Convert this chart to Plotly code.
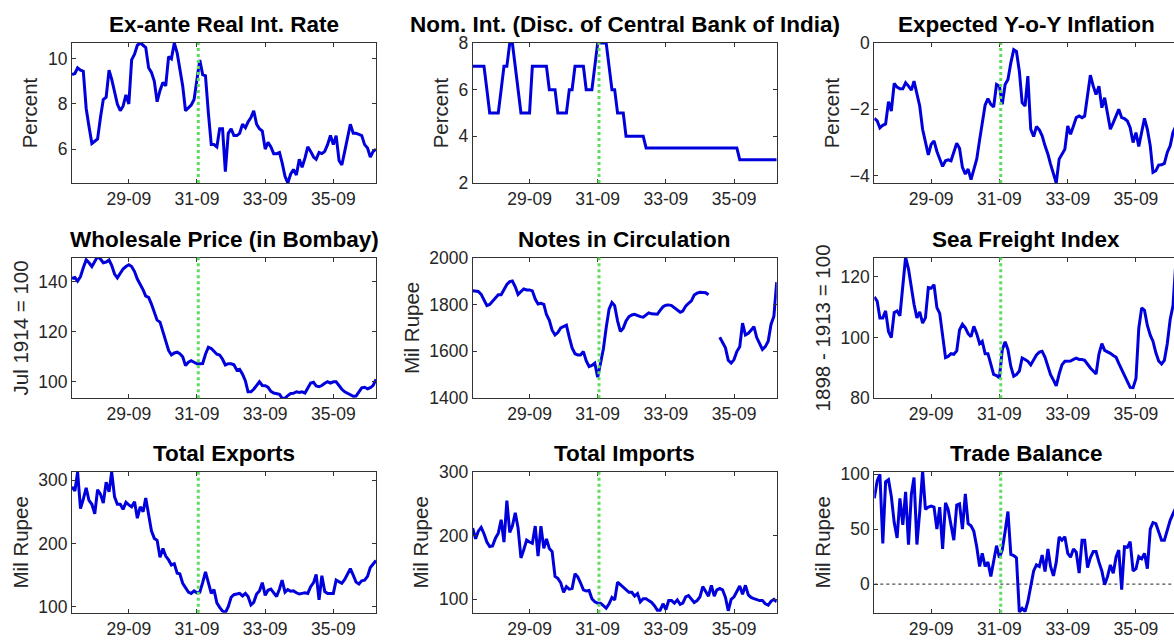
import pandas as pd
import plotly.graph_objects as go

dates = pd.date_range("1928-01-01", "1936-12-01", freq="MS")
break_date = "1931-09-15"

real_rate = [9.3,9.35,9.6,9.5,9.45,7.8,7.0,6.25,6.35,6.45,7.4,8.2,8.3,9.5,9.1,8.6,8.0,7.7,7.9,8.4,
             8.0,9.95,10.2,10.6,10.7,10.6,10.5,9.6,9.4,9.0,8.1,8.6,8.95,8.8,10.1,10.0,10.7,10.25,9.6,8.8,
             7.7,7.85,7.95,8.2,9.1,9.95,9.3,9.25,7.6,6.2,6.2,6.1,6.9,6.9,5.0,6.7,6.9,6.6,6.6,6.7,
             7.1,6.95,7.2,7.4,7.7,7.1,6.9,6.8,6.0,6.3,6.1,5.8,5.8,5.85,5.4,4.8,4.5,4.9,5.1,4.85,
             5.55,5.2,5.6,6.1,5.9,5.65,5.55,5.85,5.8,5.9,6.2,6.6,6.2,6.6,5.5,5.3,5.9,6.5,7.1,6.7,
             6.7,6.65,6.6,6.2,6.05,5.65,5.9,6.0]

nom_rate = [7,7,7,7,7,6,5,5,5,5,6,7,7,8,8,7,6,5,5,5,
            5,7,7,7,7,7,7,6,6,6,5,5,5,5,6,6,7,7,7,7,
            6,6,6,7,8,8,8,8,7,6,6,5,5,5,4,4,4,4,4,4,
            4,3.5,3.5,3.5,3.5,3.5,3.5,3.5,3.5,3.5,3.5,3.5,3.5,3.5,3.5,3.5,3.5,3.5,3.5,3.5,
            3.5,3.5,3.5,3.5,3.5,3.5,3.5,3.5,3.5,3.5,3.5,3.5,3.5,3.5,3,3,3,3,3,3,
            3,3,3,3,3,3,3,3]

exp_infl = [-2.27,-2.35,-2.56,-2.48,-2.44,-1.77,-2.05,-1.22,-1.33,-1.38,-1.38,-1.2,-1.3,-1.42,-1.15,-1.5,-1.9,-2.6,-3.0,-3.37,
            -3.05,-2.95,-3.27,-3.5,-3.72,-3.55,-3.52,-3.55,-3.3,-3.02,-3.17,-3.75,-3.95,-3.8,-4.12,-3.85,-3.5,-2.92,-2.4,-1.87,
            -1.68,-1.85,-1.93,-1.25,-1.3,-1.85,-1.25,-1.1,-0.6,-0.2,-0.25,-0.85,-1.8,-1.9,-1.0,-2.6,-2.82,-2.52,-2.62,-2.8,
            -3.1,-3.35,-3.65,-3.95,-4.22,-3.5,-3.35,-3.2,-2.5,-2.75,-2.5,-2.25,-2.2,-2.25,-2.2,-1.5,-0.97,-1.3,-1.55,-1.3,
            -1.95,-1.65,-2.1,-2.6,-2.4,-2.2,-2.0,-2.25,-2.28,-2.35,-2.55,-3.0,-2.7,-3.12,-2.7,-2.27,-2.6,-3.1,-3.9,-3.85,
            -3.68,-3.67,-3.63,-3.3,-3.1,-2.7,-2.5,-2.35]

wholesale = [141.3,141.6,140.2,142,145.5,148.7,147.5,146,148,150,149,147.5,147.8,148.6,146.5,143,141.5,143.5,145,146,
             146.7,146,144,141,139,136.7,134.2,133.7,131,127.5,124.6,123.8,120,115.7,112.5,110.7,111.5,111.8,111.2,110,
             106.5,107.8,108.4,107.8,107.2,107.2,107.3,111,113.8,113.3,112.2,111,110.7,109,106.7,107.2,107.2,106.8,104.6,105,
             103,100.3,96,96,97,98.6,100,98.5,98.4,97.8,96.2,95.5,95.2,95,93.5,93.4,94.5,95.3,95.4,96,
             95.7,96,95.5,97.5,99.5,99.8,98.3,98,98.5,99.4,100,99.5,100,100,98.2,97,96,95.3,94.6,94.2,
             94.3,96,97.6,97.8,97.2,97.6,98.6,101]

notes = [1858,1858,1855,1843,1818,1795,1800,1815,1830,1841,1841,1865,1885,1897,1900,1875,1842,1855,1866,1862,
         1862,1858,1823,1802,1805,1800,1757,1732,1690,1670,1680,1700,1706,1712,1660,1615,1590,1585,1585,1599,
         1560,1535,1540,1550,1490,1550,1610,1700,1780,1808,1795,1730,1685,1699,1730,1748,1755,1758,1752,1748,
         1746,1755,1764,1760,1758,1758,1775,1790,1797,1798,1795,1785,1776,1767,1772,1793,1805,1815,1840,1848,
         1852,1852,1850,1841,None,None,None,1660,1637,1615,1562,1550,1565,1599,1620,1720,1670,1677,1690,1705,
         1659,1635,1608,1620,1643,1715,1750,1895]

freight = [113.4,112,106.5,106.5,108.8,102,100,108.3,108.8,107.2,117,126.5,122.6,116,111,106.5,108.5,104.8,106.5,116.5,
           116.3,117.4,109.9,108,100,93.4,93.8,94.7,94.5,95.6,102.5,104.4,103.2,101.3,100.3,103.7,101.3,98,98.8,94.7,
           94.7,91.5,87.9,87.5,86.8,96,98.6,96,90.5,87.3,87.8,89,93.3,92.8,92.2,91,92.5,94.3,95.2,95.5,
           93.5,90.5,87.8,86,84.1,88,91,92.2,92.3,92.3,92.8,93.2,92.8,92.8,92.5,91,90,89,88,94.6,
           98,95.8,95.4,94.8,94.1,93.5,91.5,89.5,87.5,85.6,83.6,83.5,86.5,103,109.8,109,104,100.8,98.8,95,
           92.3,91.3,92.5,98,106,110.5,125,126]

exports = [289.5,283,313,255,270,288,268,262,247,285,278,264,297,281.6,313,273.7,262,262,254,265,
           261,258,266,240,258,250,272,246,220,208,205,178,192,180,174,166,168,153,152,137,
           130,123,121,125,122,123,138,155,138,121,127,106,99,93,90.5,100,115,119,120,121,
           117,121,116,103,107,120,125,138,118,126,128,122,116,128,142,123,127,124.5,125,122,
           120,121,122,121,131.6,138,151,111,149,124,121,121,121,142,140,137,143,153,160,150,
           139,136,141,142,148,162,168,173]

imports = [212,195,207,213,203,190,183,184,196,204,225,190,255,205,215,236,212,165,178,193,
           190,188,215,168,215,180,195,180,175,136,133,126,111,120,116,117,140,135,126,115,
           113,114,101,96,94,94,90,86,93,103,99,127,123,119,116,111,111,105,109,96,
           101,101,98,95,90,83,83,93,84,98,98,94,99,92,94,104,106,100,95,98,
           104,120,113,105,122,105,115,117,115,103,82,100,104,112,121,108,122,107,103,101,
           99,98,98,93,91,97,100,96]

trade_bal = [78,94,100,37,93,95,80,56,42,78,54,84,36,82,97,36,66,103,68,70,
             71,70,50,70,32,74,68,52,40,72,73,50,82,55,53,48,34,16,28,16,
             20,7,20,35,24,31,48,66,27,26,24,-25.5,-22,-25,-16,0,12,17.5,16,26.5,
             11.5,32,16,7.5,20,43,40,43,28,24.5,32,29,10,40,40,15,24,29.6,29.6,20,
             12,-0.6,7,17.5,10,25,31,-5,34,33.5,38.7,12,14,25,23,28,14,50,56,55,
             48,40,40,50,58,64,70,75]

titles = ["Ex-ante Real Int. Rate", "Nom. Int. (Disc. of Central Bank of India)", "Expected Y-o-Y Inflation",
          "Wholesale Price (in Bombay)", "Notes in Circulation", "Sea Freight Index",
          "Total Exports", "Total Imports", "Trade Balance"]
ylabels = ["Percent", "Percent", "Percent",
           "Jul 1914 = 100", "Mil Rupee", "1898 - 1913 = 100",
           "Mil Rupee", "Mil Rupee", "Mil Rupee"]
series = [real_rate, nom_rate, exp_infl, wholesale, notes, freight, exports, imports, trade_bal]
yranges = [[4.5, 10.7], [2, 8], [-4.22, 0],
           [93.4, 149.6], [1400, 2000], [80, 126.4],
           [90.5, 313], [79, 300], [-26, 102]]
ytickvals = [[6, 8, 10], [2, 4, 6, 8], [-4, -2, 0],
             [100, 120, 140], [1400, 1600, 1800, 2000], [80, 100, 120],
             [100, 200, 300], [100, 200, 300], [0, 50, 100]]
xtickvals = ["1929-09-01", "1931-09-01", "1933-09-01", "1935-09-01"]
xticktext = ["29-09", "31-09", "33-09", "35-09"]

W, H = 1174, 640
col_px = [(72, 376), (472.7, 776.7), (874.3, 1174)]
row_px = [(43, 183), (257.5, 398.3), (472, 612.7)]
xranges = [["1928-01-01", "1936-12-01"], ["1928-01-01", "1936-12-01"], ["1928-01-01", "1936-10-12"]]

BLUE = "#0000DD"
GREEN = "#5EDC5E"
AX = "#333333"
FONT = "Liberation Sans, Arial, sans-serif"

fig = go.Figure()
layout = dict(width=W, height=H, margin=dict(l=0, r=0, t=0, b=0, pad=0, autoexpand=False),
              autosize=False, paper_bgcolor="white", plot_bgcolor="white", showlegend=False,
              font=dict(family=FONT, color="#262626"))
annotations = []
shapes = []

for k in range(9):
    r, c = divmod(k, 3)
    n = k + 1
    xa = "xaxis" if n == 1 else f"xaxis{n}"
    ya = "yaxis" if n == 1 else f"yaxis{n}"
    xref = "x" if n == 1 else f"x{n}"
    yref = "y" if n == 1 else f"y{n}"
    x0, x1 = col_px[c]
    y0, y1 = row_px[r]
    layout[xa] = dict(domain=[x0 / W, x1 / W], anchor=yref, range=xranges[c], type="date",
                      tickvals=xtickvals, ticktext=xticktext, ticks="inside", ticklen=4,
                      tickcolor=AX, showline=True, linecolor=AX, linewidth=1,
                      mirror="ticks", showgrid=False, zeroline=False, automargin=False,
                      tickfont=dict(size=17.5, family=FONT, color="#262626"))
    layout[ya] = dict(domain=[1 - y1 / H, 1 - y0 / H], anchor=xref, range=yranges[k],
                      tickvals=ytickvals[k], ticks="inside", ticklen=4, tickcolor=AX,
                      showline=True, linecolor=AX, linewidth=1, automargin=False,
                      mirror=("ticks" if c < 2 else False), showgrid=False, zeroline=False,
                      tickfont=dict(size=17.5, family=FONT, color="#262626"),
                      title=dict(text=ylabels[k], font=dict(size=20.5, family=FONT, color="#262626"),
                                 standoff=4))
    if k == 8:
        fig.add_trace(go.Scatter(x=[dates[0], dates[-1]], y=[0, 0], mode="lines",
                                 line=dict(color="#222222", width=1, dash="dot"),
                                 xaxis=xref, yaxis=yref, hoverinfo="skip"))
    fig.add_trace(go.Scatter(x=dates, y=series[k], mode="lines",
                             line=dict(color=BLUE, width=3), connectgaps=False,
                             xaxis=xref, yaxis=yref))
    shapes.append(dict(type="line", xref=xref, yref=f"{yref} domain", x0=break_date, x1=break_date,
                       y0=0, y1=1, line=dict(color=GREEN, width=3, dash="dot"), layer="above"))
    cx = (x0 + 304 / 2) / W
    annotations.append(dict(text=f"<b>{titles[k]}</b>", xref="paper", yref="paper",
                            x=cx, y=1 - y0 / H, xanchor="center", yanchor="bottom", yshift=4,
                            showarrow=False, font=dict(size=22.5, family=FONT, color="black")))

layout["annotations"] = annotations
layout["shapes"] = shapes
fig.update_layout(**layout)
fig.write_html("out.html", config={"displayModeBar": False},
               post_script="document.body.style.margin='0';document.body.style.overflow='hidden';")
